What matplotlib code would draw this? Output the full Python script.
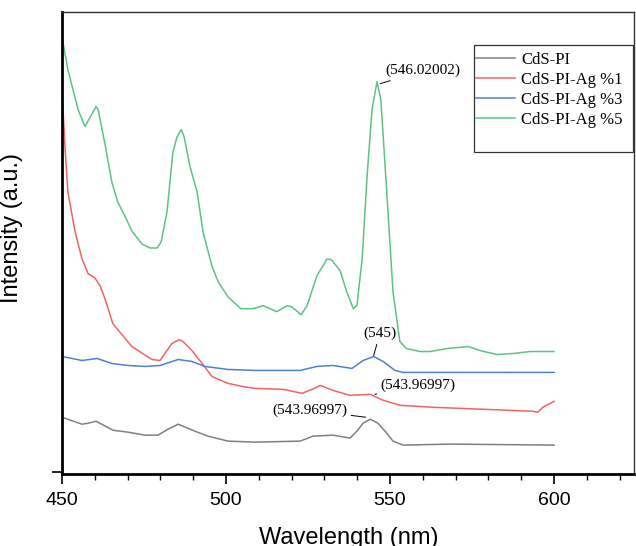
"""
plot.py - photoluminescence spectra of CdS-PI films with increasing Ag loading.
"""
import matplotlib
matplotlib.use("Agg")
import matplotlib.pyplot as plt
from matplotlib.patches import Rectangle

# --- spectra (wavelength in nm, intensity in arbitrary units) ---
wl_pi = [450, 456.1, 458, 460.4, 465.5, 470.1, 475.3, 479.3, 482.3, 485.4,
         490.5, 494.5, 500.6, 508.8, 522.6, 526.5, 532.6, 537.8, 539.9, 541.8,
         543.97, 546.3, 549, 550.9, 554, 568.3, 600]
int_pi = [55, 48, 49, 51, 42, 40, 37, 37, 43, 48,
          41, 36, 31, 30, 31, 36, 37, 34, 41, 49,
          53, 49, 39, 31, 27, 28, 27]

wl_ag1 = [450, 451, 451.8, 454, 456.1, 458, 460, 461.6, 463.1, 465.5,
          471.3, 477.4, 479.9, 483.5, 485.7, 486.9, 489.6, 492.7, 495.7, 500.6,
          504.9, 508.8, 517.4, 523.2, 526.2, 528.7, 532.6, 537.8, 543.97, 547.9,
          553, 563.1, 578.4, 593.6, 595, 596.6, 600]
int_ag1 = [384, 321, 281, 241, 214, 199, 195, 187, 174, 149,
           126, 113, 112, 129, 133, 131, 122, 109, 96, 89,
           86, 84, 83, 79, 83, 87, 82, 77, 78, 72,
           67, 65, 63, 61, 60, 65, 71]

wl_ag3 = [450, 456.1, 460.7, 465.2, 470.1, 475.3, 479.9, 485.4, 489.6, 493.6,
          500.6, 508.8, 522.6, 527.7, 532.6, 538.4, 541.8, 545, 547.9, 551.5,
          554, 600]
int_ag3 = [116, 112, 114, 109, 107, 106, 107, 113, 111, 106,
           103, 102, 102, 106, 107, 104, 112, 116, 111, 102,
           100, 100]

wl_ag5 = [450, 451.8, 454.9, 457, 460.4, 461, 463, 465.2, 467, 469.2,
          471.3, 474.4, 476.8, 479, 480.2, 482, 483.8, 485, 486.3, 487.2,
          489, 491.2, 493, 495.7, 497.6, 500.6, 504.5, 508.2, 511.3, 515.5,
          518.6, 520, 522.9, 524.7, 527.7, 530.8, 532.2, 534.8, 536.8, 538.8,
          539.9, 541.5, 543, 544.5, 546.02, 547.2, 549, 550.9, 553, 555,
          559.1, 562.2, 567.4, 573.8, 577.4, 582.6, 587.5, 592.7, 600]
int_ag5 = [437, 404, 364, 347, 367, 364, 331, 291, 271, 257,
           242, 229, 225, 225, 231, 261, 321, 336, 344, 337,
           307, 281, 241, 207, 191, 176, 164, 164, 167, 161,
           167, 166, 158, 167, 197, 214, 213, 202, 181, 164,
           167, 214, 297, 364, 392, 374, 281, 181, 131, 124,
           121, 121, 124, 126, 122, 118, 119, 121, 121]

labels = ["CdS-PI", "CdS-PI-Ag %1", "CdS-PI-Ag %3", "CdS-PI-Ag %5"]
colors = ["#808080", "#f26363", "#4f7fd6", "#5ec285"]

# peak markers: (x, y of the leader end, label, text x, text y, alignment)
peaks = [
    (547.0, 390, "(546.02002)", 548.6, 403, "left"),
    (545.0, 117, "(545)", 546.9, 139, "center"),
    (545.4, 78, "(543.96997)", 547.2, 87, "left"),
    (542.6, 55, "(543.96997)", 536.9, 62, "right"),
]

fig = plt.figure(figsize=(6.36, 5.46), dpi=100)
ax = fig.add_axes([0.0975, 0.1319, 0.8995, 0.8461])

series = [(wl_pi, int_pi), (wl_ag1, int_ag1), (wl_ag3, int_ag3), (wl_ag5, int_ag5)]
for (x, y), lab, col in zip(series, labels, colors):
    ax.plot(x, y, color=col, lw=1.1, label=lab, solid_joinstyle="round")

serif = ["Liberation Serif", "DejaVu Serif"]
sans = ["Liberation Sans", "DejaVu Sans"]
for px, py, txt, tx, ty, ha in peaks:
    ax.annotate(txt, xy=(px, py), xytext=(tx, ty), ha=ha, va="center",
                fontsize=11, family=serif, color="black",
                arrowprops=dict(arrowstyle="-", color="black", lw=0.7,
                                shrinkA=1, shrinkB=0))

ax.set_xlim(450, 624.4)
ax.set_ylim(-2, 462)
ax.set_xticks([450, 500, 550, 600])
ax.set_xticks(range(460, 625, 10), minor=True)
ax.set_yticks([0])
ax.set_yticklabels([])
ax.tick_params(axis="both", which="major", direction="out", length=7, width=1.2,
               labelsize=14, pad=6)
ax.tick_params(axis="x", which="minor", direction="out", length=4, width=1.0)
for lab in ax.get_xticklabels():
    lab.set_family(sans)

for side in ("left", "bottom"):
    ax.spines[side].set_linewidth(2.0)
    ax.spines[side].set_color("black")
for side in ("top", "right"):
    ax.spines[side].set_linewidth(1.0)
    ax.spines[side].set_color("#333333")

ax.set_xlabel("Wavelength (nm)", fontsize=17, family=sans)
ax.set_ylabel("Intensity (a.u.)", fontsize=17, family=sans)
ax.xaxis.set_label_coords(0.502, -0.115)
ax.yaxis.set_label_coords(-0.069, 0.532)

leg = ax.legend(loc="upper left", bbox_to_anchor=(0.724, 0.914), frameon=False,
                prop={"family": serif, "size": 12}, handlelength=2.3,
                handletextpad=0.4, labelspacing=0.25, borderpad=0,
                borderaxespad=0)
ax.add_patch(Rectangle((0.720, 0.697), 0.278, 0.232, transform=ax.transAxes,
                       fill=False, edgecolor="#333333", lw=0.9, zorder=5))

fig.savefig("out.png", dpi=100, facecolor="white")
